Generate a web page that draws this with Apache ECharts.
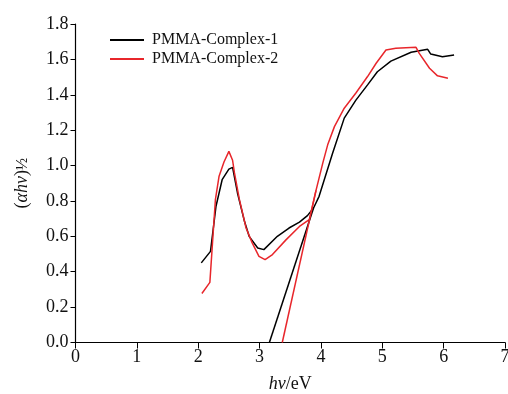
<!DOCTYPE html>
<html><head><meta charset="utf-8">
<script src="https://cdn.jsdelivr.net/npm/echarts@6/dist/echarts.min.js"></script>
<style>html,body{margin:0;padding:0;background:#fff;overflow:hidden}#c{width:508px;height:394px}</style>
</head><body><div id="c"></div>
<script>
var seriesNames = ['PMMA-Complex-1', 'PMMA-Complex-2'];
var x1 = [2.05, 2.2, 2.29, 2.39, 2.5, 2.56, 2.64, 2.75, 2.83, 2.97, 3.07, 3.29, 3.48, 3.65, 3.78, 3.88, 3.97, 4.19, 4.38, 4.57, 4.76, 4.92, 5.14, 5.47, 5.74, 5.79, 5.98, 6.17];
var y1 = [0.45, 0.515, 0.77, 0.92, 0.98, 0.99, 0.845, 0.69, 0.60, 0.534, 0.525, 0.60, 0.647, 0.68, 0.717, 0.76, 0.826, 1.07, 1.268, 1.37, 1.456, 1.53, 1.59, 1.64, 1.657, 1.63, 1.615, 1.625];
var x2 = [2.06, 2.19, 2.28, 2.34, 2.42, 2.5, 2.56, 2.59, 2.67, 2.78, 2.88, 2.99, 3.09, 3.21, 3.43, 3.65, 3.81, 3.92, 4.03, 4.11, 4.22, 4.38, 4.57, 4.76, 4.9, 5.06, 5.22, 5.55, 5.6, 5.77, 5.9, 6.07];
var y2 = [0.277, 0.34, 0.807, 0.94, 1.02, 1.08, 1.03, 0.96, 0.81, 0.647, 0.563, 0.487, 0.468, 0.497, 0.58, 0.656, 0.694, 0.86, 1.014, 1.117, 1.22, 1.324, 1.41, 1.503, 1.578, 1.653, 1.663, 1.668, 1.635, 1.55, 1.507, 1.494];
var tanX1 = [3.16, 3.88];
var tanY1 = [0.0, 0.76];
var tanX2 = [3.37, 3.92];
var tanY2 = [0.0, 0.86];
var xTicks = [0, 1, 2, 3, 4, 5, 6, 7];
var yTicks = [0, 0.2, 0.4, 0.6, 0.8, 1.0, 1.2, 1.4, 1.6, 1.8];

function pairs(xs, ys) { return xs.map(function (x, i) { return [x, ys[i]]; }); }
var font = 'Liberation Serif';
var chart = echarts.init(document.getElementById('c'), null, { renderer: 'canvas' });
var lineCommon = { type: 'line', symbol: 'none', smooth: false, animation: false };
chart.setOption({
  animation: false,
  backgroundColor: '#fff',
  grid: { left: 75.5, right: 3, top: 24, bottom: 51.5, containLabel: false, outerBoundsMode: 'none' },
  legend: {
    data: seriesNames,
    orient: 'vertical', left: 105, top: 27, itemWidth: 34, itemHeight: 2, itemGap: 3,
    icon: 'rect',
    textStyle: { fontFamily: font, fontSize: 16, color: '#111', padding: [0, 0, 0, 3] }
  },
  xAxis: {
    type: 'value', min: xTicks[0], max: xTicks[xTicks.length - 1], interval: 1,
    axisLine: { show: true, lineStyle: { color: '#000', width: 1.2 } },
    axisTick: { show: true, length: 6, lineStyle: { color: '#000' } },
    axisLabel: { fontFamily: font, fontSize: 18, color: '#111', margin: 6, formatter: function (v) { return String(v); } },
    splitLine: { show: false },
    name: '{i|hv}{n|/eV}', nameLocation: 'middle', nameGap: 33,
    nameTextStyle: { rich: { i: { fontFamily: font, fontStyle: 'italic', fontSize: 18, color: '#111' }, n: { fontFamily: font, fontSize: 18, color: '#111' } } }
  },
  yAxis: {
    type: 'value', min: yTicks[0], max: yTicks[yTicks.length - 1], interval: 0.2,
    axisLine: { show: true, lineStyle: { color: '#000', width: 1.2 } },
    axisTick: { show: true, length: 5, lineStyle: { color: '#000' } },
    axisLabel: { fontFamily: font, fontSize: 18, color: '#111', margin: 7, formatter: function (v) { return v.toFixed(1); } },
    splitLine: { show: false },
    name: '{n|(}{i|αhv}{n|)}{s|½}', nameLocation: 'middle', nameGap: 44, nameRotate: 90,
    nameTextStyle: { rich: {
      i: { fontFamily: font, fontStyle: 'italic', fontSize: 18, color: '#111' },
      n: { fontFamily: font, fontSize: 18, color: '#111' },
      s: { fontFamily: font, fontSize: 16, color: '#111' }
    } }
  },
  series: [
    Object.assign({ name: seriesNames[0], data: pairs(x1, y1), lineStyle: { color: '#000', width: 1.5 }, itemStyle: { color: '#000' } }, lineCommon),
    Object.assign({ name: seriesNames[1], data: pairs(x2, y2), lineStyle: { color: '#e8262b', width: 1.5 }, itemStyle: { color: '#e8262b' } }, lineCommon),
    Object.assign({ name: 'tan1', data: pairs(tanX1, tanY1), lineStyle: { color: '#000', width: 1.5 } }, lineCommon),
    Object.assign({ name: 'tan2', data: pairs(tanX2, tanY2), lineStyle: { color: '#e8262b', width: 1.5 } }, lineCommon)
  ]
});
</script></body></html>
